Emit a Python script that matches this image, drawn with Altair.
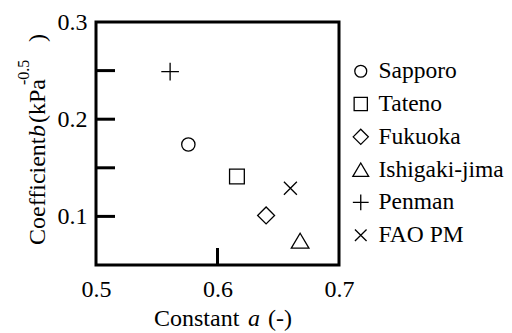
import altair as alt
import pandas as pd

# data
stations = ["Sapporo", "Tateno", "Fukuoka", "Ishigaki-jima", "Penman", "FAO PM"]
const_a = [0.576, 0.616, 0.640, 0.668, 0.561, 0.660]
coef_b = [0.174, 0.141, 0.101, 0.075, 0.249, 0.129]

x_ticks = [0.5, 0.6, 0.7]
y_ticks = [0.1, 0.2, 0.3]
y_minor = [0.1, 0.15, 0.2, 0.25]
x_minor = [0.6]

FONT = "Times New Roman, Liberation Serif, serif"

shapes = [
    "M0.74,0A0.74,0.74 0 1,1 -0.74,0A0.74,0.74 0 1,1 0.74,0Z",  # circle
    "M-0.82,-0.82L0.82,-0.82L0.82,0.82L-0.82,0.82Z",  # square
    "M-0.94,0L0,-0.94L0.94,0L0,0.94Z",  # diamond
    "M0,-0.83L0.98,0.83L-0.98,0.83Z",  # triangle
    "M-0.98,0L0.98,0M0,-0.98L0,0.98",  # plus
    "M-0.72,-0.72L0.72,0.72M-0.72,0.72L0.72,-0.72",  # x
]

df = pd.DataFrame({"station": stations, "a": const_a, "b": coef_b})

xscale = alt.Scale(domain=[0.5, 0.7], nice=False, zero=False)
yscale = alt.Scale(domain=[0.05, 0.3], nice=False, zero=False)

points = alt.Chart(df).mark_point(filled=False, size=324, strokeWidth=1.3, color="black", opacity=1).encode(
    x=alt.X("a:Q", scale=xscale,
            axis=alt.Axis(values=x_ticks, title=None, ticks=False, domain=False, grid=False,
                          labelFlush=False, labelOverlap=False, labelPadding=12, format=".1f",
                          labelFont=FONT, labelFontSize=24, labelColor="black")),
    y=alt.Y("b:Q", scale=yscale,
            axis=alt.Axis(values=y_ticks, title=None, ticks=False, domain=False, grid=False,
                          labelFlush=False, labelOverlap=False, labelPadding=9, format=".1f",
                          labelFont=FONT, labelFontSize=24, labelColor="black")),
    shape=alt.Shape("station:N", scale=alt.Scale(domain=stations, range=shapes),
                    legend=alt.Legend(title=None, orient="none", legendX=253, legendY=37.5,
                                      symbolSize=260, symbolStrokeWidth=1.3, symbolStrokeColor="black",
                                      symbolFillColor="transparent",
                                      labelFont=FONT, labelFontSize=23.5, labelColor="black",
                                      labelOffset=6, rowPadding=7.8, padding=0)),
)

yt = alt.Chart(pd.DataFrame({"v": y_minor})).mark_rule(color="black", strokeWidth=3).encode(
    y=alt.Y("v:Q", scale=yscale), x=alt.value(0), x2=alt.value(19))
xt = alt.Chart(pd.DataFrame({"v": x_minor})).mark_rule(color="black", strokeWidth=3).encode(
    x=alt.X("v:Q", scale=xscale), y=alt.value(243), y2=alt.value(226))

one = pd.DataFrame({"k": [0]})

def txt(s, x, y, size=24, italic=False, align="left", angle=0):
    kw = dict(text=s, font=FONT, fontSize=size, color="black", align=align, baseline="alphabetic")
    if italic:
        kw["fontStyle"] = "italic"
    if angle:
        kw["angle"] = angle
    return alt.Chart(one).mark_text(**kw).encode(x=alt.value(x), y=alt.value(y))

titles = [
    txt("Constant", 58, 304),
    txt("a", 152, 304, italic=True),
    txt("(-)", 172, 304),
    txt("Coefficient", -51, 223, angle=270),
    txt("b", -51, 115, italic=True, angle=270),
    txt("(kPa", -51, 101, angle=270),
    txt("-0.5", -67, 63, size=16, angle=270),
    txt(")", -51, 20, angle=270),
]

chart = alt.layer(points, yt, xt, *titles).properties(
    width=243, height=243, autosize="none", background="white",
    padding={"left": 88, "top": 14, "right": 165, "bottom": 70},
).configure_view(stroke="black", strokeWidth=3)

chart.save("out.html", embed_options={"renderer": "svg", "actions": False})
